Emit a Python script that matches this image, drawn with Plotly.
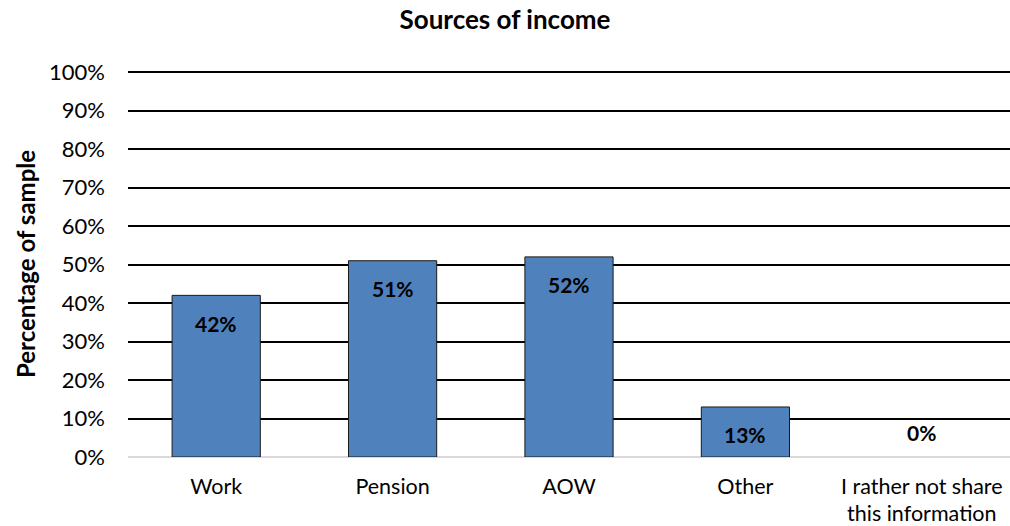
import plotly.graph_objects as go

categories = ["Work", "Pension", "AOW", "Other", "I rather not share<br>this information"]
shares = [42, 51, 52, 13, 0]
y_ticks = list(range(0, 101, 10))
y_tick_labels = [f"{v}%" for v in y_ticks]

FONT = "Lato, 'Open Sans', sans-serif"

fig = go.Figure(
    go.Bar(
        x=categories,
        y=shares,
        marker=dict(
            color="#4f81bd",
            line=dict(color="#1a1a1a", width=[1 if v > 0 else 0 for v in shares]),
        ),
        width=0.5,
        hoverinfo="skip",
    )
)

# value labels just inside the top of each bar; a zero bar gets its label above the baseline
for cat, val in zip(categories, shares):
    fig.add_annotation(
        x=cat, y=val, text=f"<b>{val}%</b>", showarrow=False,
        yshift=-28 if val > 0 else 25,
        font=dict(family=FONT, size=21, color="#000000"),
    )

fig.update_layout(
    width=1010, height=526,
    margin=dict(l=128, r=0, t=71, b=69),
    paper_bgcolor="white", plot_bgcolor="white",
    showlegend=False,
    title=dict(text="<b>Sources of income</b>", x=0.5, xanchor="center",
               y=0.962, yanchor="middle", font=dict(family=FONT, size=26, color="#000")),
    font=dict(family=FONT, size=22, color="#000"),
)
fig.update_xaxes(
    showgrid=False, showline=False, zeroline=False, ticks="",
    ticklabelstandoff=14,
    tickfont=dict(family=FONT, size=21.5, color="#000"),
)
fig.update_yaxes(
    range=[0, 100.3], tickvals=y_ticks, ticktext=y_tick_labels,
    showgrid=True, gridcolor="#000000", gridwidth=2,
    zeroline=True, zerolinecolor="#d9d9d9", zerolinewidth=2,
    showline=False, ticks="", ticklabelstandoff=22,
    tickfont=dict(family=FONT, size=22, color="#000"),
    title=dict(text="<b>Percentage of sample</b>", standoff=6,
               font=dict(family=FONT, size=24, color="#000")),
)

fig.write_html("out.html")
